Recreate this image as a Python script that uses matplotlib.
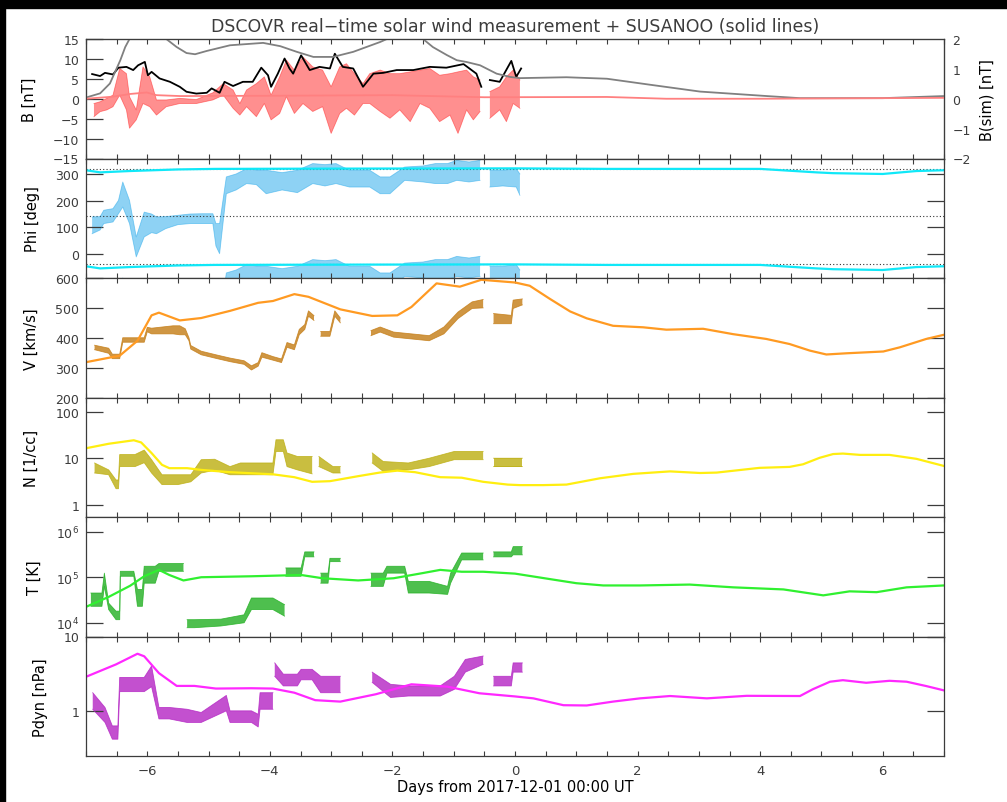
import numpy as np
import matplotlib.pyplot as plt
from matplotlib.patches import Rectangle
from matplotlib.ticker import FixedLocator, MultipleLocator, NullLocator, FixedFormatter

nan = np.nan

# ---- B panel: measured |B| (black) and Bz (red), left axis [nT]
b_t = [-6.90, -6.77, -6.69, -6.56, -6.47, -6.34, -6.23, -6.15, -6.04, -5.99, -5.93, -5.80, -5.63,
       -5.47, -5.36, -5.20, -5.03, -4.95, -4.82, -4.74, -4.60, -4.44, -4.28, -4.14, -4.03, -3.98,
       -3.87, -3.76, -3.68, -3.62, -3.49, -3.35, -3.19, -3.02, -2.94, -2.81, -2.64, -2.48, -2.31,
       -2.15, -1.93, -1.66, -1.39, -1.12, -0.84, -0.63, -0.55, -0.48, -0.41, -0.25, -0.06, 0.02, 0.10]
b_mag = [6.2, 5.7, 6.5, 6.1, 7.8, 8.0, 7.2, 8.4, 9.25, 5.9, 6.75, 5.1, 4.25,
         3.0, 1.75, 1.3, 1.5, 2.6, 1.5, 4.25, 3.2, 4.25, 4.25, 7.8, 5.9, 3.0,
         6.3, 10.1, 7.6, 6.3, 10.9, 7.2, 8.0, 7.6, 11.3, 8.0, 7.6, 3.0, 6.3,
         6.5, 7.2, 7.2, 8.0, 7.8, 8.7, 6.3, 3.0, nan, 4.7, 4.25, 9.5, 5.5, 7.6]

bz_t = [-6.87, -6.77, -6.66, -6.56, -6.45, -6.34, -6.29, -6.18, -6.07, -5.96, -5.85, -5.69, -5.47,
        -5.20, -4.93, -4.76, -4.60, -4.49, -4.38, -4.22, -4.09, -3.98, -3.84, -3.73, -3.60, -3.46,
        -3.30, -3.14, -3.00, -2.86, -2.75, -2.62, -2.48, -2.37, -2.20, -2.04, -1.88, -1.71, -1.55,
        -1.39, -1.23, -1.06, -0.93, -0.79, -0.68, -0.57, -0.49, -0.41, -0.25, -0.14, -0.03, 0.08]
bz_hi = [-1.2, -0.75, 0.1, 0.9, 7.6, 6.3, 0.5, -2.8, 8.0, 5.5, -0.3, -0.3, 0.1,
         -0.2, 1.5, 3.8, 2.2, -1.2, 2.2, 3.8, 5.5, 0.9, 5.5, 9.7, 7.2, 10.5,
         8.0, 7.2, 3.0, 8.0, 8.8, 6.3, 3.8, 6.3, 7.2, 6.3, 6.3, 6.75, 7.2,
         7.6, 5.9, 6.3, 6.75, 7.2, 5.5, 4.7, nan, 1.8, 3.0, 5.5, 7.2, 4.7]
bz_lo = [-4.5, -3.25, -2.8, -2.0, 0.9, -2.8, -7.4, -5.3, -1.2, -2.0, -4.1, -2.0, -1.2,
         -1.2, -0.3, 0.9, -2.4, -4.1, -2.0, -4.5, -1.2, -5.3, -3.7, 0.5, -3.7, -1.2,
         -3.2, -2.0, -8.7, -3.7, -2.4, -4.1, -1.2, -1.2, -3.2, -4.9, -2.8, -5.75, -1.2,
         -2.4, -5.75, -4.1, -8.7, -2.8, -5.3, -3.2, nan, -4.9, -2.8, -5.75, -1.2, -2.4]

# SUSANOO |B| (grey) and Bz (pink), right axis B(sim) [nT]
sim_b_t = [-7.0, -6.77, -6.61, -6.44, -6.36, -6.29, -6.0, -5.69, -5.52, -5.36, -5.22, -5.03, -4.65,
           -4.11, -3.83, -3.56, -3.29, -2.97, -2.64, -2.20, -2.09, -1.8, -1.50, -1.34, -1.11, -0.95,
           -0.79, -0.57, -0.30, -0.08, 0.08, 0.84, 1.5, 2.2, 3.02, 4.11, 4.65, 6.0, 7.0]
sim_bmag = [0.04, 0.18, 0.51, 1.29, 1.73, 2.0, 2.4, 2.0, 1.73, 1.53, 1.49, 1.6, 1.79,
            1.87, 1.76, 1.57, 1.4, 1.4, 1.57, 1.9, 2.0, 2.3, 2.0, 1.73, 1.46, 1.29,
            1.23, 1.12, 0.84, 0.73, 0.69, 0.72, 0.67, 0.47, 0.24, 0.09, 0.02, 0.02, 0.09]
sim_bz_t = [-7.0, -6.56, -6.28, -6.01, -5.85, -5.46, -4.0, -2.0, -0.5, 1.5, 2.47, 4.0, 6.0, 7.0]
sim_bz = [0.0, 0.07, 0.16, 0.21, 0.12, 0.09, 0.10, 0.12, 0.05, 0.06, 0.0, 0.0, 0.02, 0.03]

# ---- Phi [deg]
phi_t = [-6.90, -6.77, -6.71, -6.56, -6.47, -6.40, -6.29, -6.18, -6.05, -5.93, -5.85, -5.70, -5.50,
         -5.30, -5.10, -4.93, -4.88, -4.82, -4.71, -4.55, -4.38, -4.22, -4.06, -3.80, -3.55, -3.30,
         -3.10, -2.92, -2.70, -2.50, -2.37, -2.20, -2.04, -1.80, -1.50, -1.30, -1.10, -0.95, -0.75,
         -0.57, -0.49, -0.41, -0.20, 0.02, 0.08]
phi_hi = [139, 140, 164, 170, 201, 270, 201, 64, 157, 150, 139, 140, 145,
          150, 151, 151, 114, 114, 289, 300, 320, 315, 314, 305, 314, 339,
          335, 339, 314, 314, 314, 289, 289, 326, 330, 339, 339, 351, 345,
          351, nan, 314, 314, 320, 300]
phi_lo = [76, 90, 114, 120, 151, 176, 114, -11, 64, 80, 76, 95, 110,
          114, 114, 114, 30, 1, 226, 240, 264, 260, 226, 240, 230, 264,
          255, 264, 251, 251, 251, 226, 226, 276, 270, 264, 264, 276, 270,
          276, nan, 251, 255, 251, 220]
sim_phi_t = [-7.0, -6.77, -6.29, -5.5, -4.9, -3.0, 0.0, 1.5, 4.0, 4.92, 5.19, 6.0, 6.55, 7.0]
sim_phi = [314, 306, 311, 317, 319, 320, 321, 319, 319, 306, 303, 300, 311, 314]
phi_ref = [320, 142, -38]

# ---- V [km/s]
v_t = [-6.86, -6.63, -6.57, -6.45, -6.40, -6.05, -6.00, -5.93, -5.58, -5.47, -5.38, -5.32, -5.29,
       -5.12, -4.88, -4.65, -4.42, -4.30, -4.19, -4.13, -3.95, -3.81, -3.72, -3.60, -3.52, -3.43,
       -3.37, -3.28, -3.22, -3.17, -3.02, -2.94, -2.85, -2.60, -2.35, -2.20, -1.98, -1.40, -1.16,
       -0.93, -0.70, -0.52, -0.44, -0.35, -0.06, -0.03, 0.12]
v_lo = [360, 348, 330, 330, 385, 385, 420, 413, 413, 410, 410, 390, 362,
        343, 331, 320, 311, 292, 305, 335, 325, 317, 368, 360, 410, 428,
        472, 458, nan, 405, 405, 472, 450, nan, 407, 419, 402, 390, 413,
        464, 498, 500, nan, 447, 447, 498, 510]
v_hi = [375, 365, 345, 345, 400, 400, 435, 432, 440, 440, 430, 400, 374,
        355, 343, 332, 323, 306, 317, 350, 337, 329, 384, 376, 428, 444,
        490, 474, nan, 421, 421, 490, 466, nan, 424, 436, 419, 407, 436,
        486, 520, 528, nan, 481, 475, 526, 530]
sim_v_t = [-6.98, -6.45, -6.16, -5.93, -5.81, -5.47, -5.12, -4.65, -4.19, -3.95, -3.60, -3.37, -2.85,
           -2.33, -1.92, -1.69, -1.28, -0.90, -0.55, 0.0, 0.24, 0.57, 0.90, 1.17, 1.60, 2.09, 2.47,
           3.07, 3.56, 4.10, 4.48, 4.81, 5.08, 5.41, 6.01, 6.28, 6.71, 7.0]
sim_v = [319, 340, 390, 475, 484, 458, 466, 490, 517, 523, 546, 537, 495,
         473, 475, 503, 582, 571, 594, 585, 574, 530, 488, 465, 440, 435, 427,
         430, 412, 396, 379, 357, 344, 348, 354, 368, 396, 410]

# ---- N [1/cc]
n_t = [-6.86, -6.63, -6.51, -6.47, -6.45, -6.20, -6.05, -5.93, -5.76, -5.50, -5.29, -5.12, -4.90,
       -4.65, -4.48, -4.20, -3.95, -3.90, -3.78, -3.72, -3.55, -3.31, -3.25, -3.20, -2.97, -2.85,
       -2.60, -2.33, -2.15, -1.74, -1.40, -0.99, -0.52, -0.44, -0.35, 0.12]
n_lo = [4.8, 4.4, 2.2, 2.2, 6.6, 6.6, 8.0, 4.8, 2.7, 2.7, 3.1, 4.8, 5.5,
        4.4, 4.4, 4.4, 4.4, 14, 14, 6.6, 5.6, 4.6, nan, 6.6, 4.8, 4.8,
        nan, 7.9, 5.2, 5.6, 6.6, 9.3, 9.3, nan, 6.6, 6.6]
n_hi = [7.9, 5.6, 3.4, 3.4, 12, 12, 15, 9.3, 4.4, 4.4, 4.4, 9.3, 9.5,
        6.6, 7.9, 7.9, 7.9, 25, 25, 13, 10.9, 10.9, nan, 10.9, 6.6, 6.6,
        nan, 13, 8.5, 7.9, 10, 14, 14, nan, 10, 10]
sim_n_t = [-6.98, -6.63, -6.22, -6.10, -5.93, -5.76, -5.64, -5.35, -5.12, -4.65, -3.95, -3.60, -3.31,
           -3.02, -2.56, -2.21, -1.92, -1.63, -1.22, -0.87, -0.52, -0.12, 0.08, 0.46, 0.84, 1.39,
           1.93, 2.53, 3.02, 3.29, 3.99, 4.48, 4.70, 4.97, 5.19, 5.35, 5.63, 6.11, 6.55, 7.0]
sim_n = [16.6, 20.5, 24.4, 21.9, 12.9, 7.2, 6.1, 6.1, 5.6, 5.0, 4.5, 3.9, 3.1,
         3.2, 4.1, 4.9, 5.4, 5.0, 3.9, 3.8, 3.1, 2.7, 2.63, 2.63, 2.7, 3.7,
         4.6, 5.2, 4.8, 4.9, 6.2, 6.5, 7.4, 10.2, 12.3, 12.6, 11.8, 11.8, 9.7, 6.8]

# ---- T [K]
t_t = [-6.92, -6.74, -6.70, -6.63, -6.51, -6.45, -6.44, -6.22, -6.16, -6.08, -6.05, -5.87, -5.81,
       -5.41, -5.38, -5.35, -5.23, -4.80, -4.42, -4.30, -3.95, -3.76, -3.75, -3.74, -3.49, -3.43,
       -3.28, -3.22, -3.17, -3.05, -3.02, -2.85, -2.60, -2.35, -2.15, -2.09, -1.80, -1.74, -1.40,
       -1.10, -1.05, -0.87, -0.52, -0.44, -0.35, -0.06, -0.03, 0.12]
temp_lo = [2.3e4, 2.3e4, 6.3e4, 1.95e4, 1.17e4, 1.17e4, 1.05e5, 1.05e5, 2.3e4, 2.3e4, 7.4e4, 7.4e4, 1.35e5,
           1.35e5, nan, 7.8e3, 7.8e3, 8.5e3, 1.0e4, 1.95e4, 1.95e4, 1.4e4, nan, 1.05e5, 1.05e5, 2.8e5,
           2.8e5, nan, 7.4e4, 7.4e4, 2.2e5, 2.2e5, nan, 6.3e4, 6.3e4, 1.23e5, 1.23e5, 4.5e4, 4.5e4,
           4.2e4, 7.4e4, 2.4e5, 2.4e5, nan, 2.8e5, 2.8e5, 3.1e5, 3.1e5]
temp_hi = [4.5e4, 4.5e4, 1.23e5, 2.7e4, 1.8e4, 1.8e4, 1.35e5, 1.35e5, 5.4e4, 5.4e4, 1.74e5, 1.74e5, 2.0e5,
           2.0e5, nan, 1.17e4, 1.17e4, 1.2e4, 1.5e4, 3.5e4, 3.5e4, 2.5e4, nan, 1.6e5, 1.6e5, 3.6e5,
           3.6e5, nan, 1.23e5, 1.23e5, 2.6e5, 2.6e5, nan, 1.23e5, 1.23e5, 1.74e5, 1.74e5, 8.1e4, 8.1e4,
           6.3e4, 1.23e5, 3.4e5, 3.4e5, nan, 3.6e5, 3.6e5, 4.7e5, 4.7e5]
sim_t_t = [-6.98, -6.63, -6.28, -6.05, -5.81, -5.64, -5.41, -5.12, -4.30, -3.49, -3.14, -2.56, -1.98,
           -1.51, -1.22, -0.87, -0.52, 0.0, 0.57, 1.0, 1.44, 2.04, 2.85, 3.56, 4.38, 5.03, 5.46,
           5.90, 6.39, 7.0]
sim_temp = [2.3e4, 3.7e4, 6.5e4, 1.05e5, 1.45e5, 1.12e5, 8.5e4, 1.0e5, 1.05e5, 1.12e5, 9.5e4, 8.5e4, 9.5e4,
            1.23e5, 1.45e5, 1.32e5, 1.32e5, 1.2e5, 9.1e4, 7.4e4, 6.6e4, 6.6e4, 6.9e4, 6.0e4, 5.4e4,
            4.0e4, 4.9e4, 4.7e4, 6.0e4, 6.6e4]

# ---- Pdyn [nPa]
p_t = [-6.89, -6.69, -6.57, -6.48, -6.45, -6.05, -5.93, -5.81, -5.64, -5.35, -5.12, -4.71, -4.65,
       -4.30, -4.19, -4.16, -3.95, -3.93, -3.92, -3.78, -3.55, -3.49, -3.31, -3.17, -2.85, -2.60,
       -2.33, -2.03, -1.74, -1.22, -0.99, -0.81, -0.52, -0.44, -0.35, -0.06, -0.03, 0.12]
p_lo = [1.04, 0.69, 0.41, 0.41, 1.8, 1.8, 2.1, 0.77, 0.77, 0.69, 0.69, 0.99, 0.69,
        0.69, 0.6, 1.04, 1.04, nan, 2.9, 2.15, 2.15, 2.6, 2.6, 1.74, 1.74, nan,
        2.4, 1.5, 1.57, 1.57, 1.93, 3.3, 4.2, nan, 2.15, 2.15, 3.3, 3.3]
p_hi = [1.74, 1.1, 0.62, 0.62, 2.8, 2.8, 4.0, 1.1, 1.1, 1.04, 0.94, 1.6, 0.99,
        0.99, 0.89, 1.74, 1.74, nan, 4.4, 3.1, 3.1, 3.6, 3.6, 2.9, 2.9, nan,
        3.3, 2.26, 2.15, 2.15, 2.9, 4.9, 5.45, nan, 2.9, 2.9, 4.4, 4.4]
sim_p_t = [-6.98, -6.51, -6.16, -6.05, -5.81, -5.52, -5.23, -4.88, -4.30, -3.95, -3.60, -3.26, -2.85,
           -2.27, -1.69, -1.10, -0.58, 0.0, 0.30, 0.79, 1.17, 1.60, 2.04, 2.53, 3.13, 3.78, 4.65,
           4.86, 5.14, 5.35, 5.73, 6.11, 6.39, 6.71, 7.0]
sim_p = [2.9, 4.2, 5.85, 5.4, 3.2, 2.15, 2.15, 1.98, 2.0, 1.98, 1.74, 1.38, 1.32,
         1.66, 2.26, 2.1, 1.71, 1.55, 1.46, 1.18, 1.17, 1.32, 1.46, 1.57, 1.46, 1.58, 1.57,
         1.94, 2.45, 2.57, 2.37, 2.52, 2.45, 2.14, 1.87]

# ---------------------------------------------------------------- figure
W, H = 1007, 803
ink = '#3c3c3c'
plt.rcParams['font.family'] = 'DejaVu Sans'
plt.rcParams['text.color'] = ink
plt.rcParams['axes.edgecolor'] = ink
plt.rcParams['xtick.color'] = ink
plt.rcParams['ytick.color'] = ink

fig = plt.figure(figsize=(W / 100, H / 100), dpi=100)
fig.patches.append(Rectangle((0, 1 - 9 / H), 1, 9 / H, transform=fig.transFigure, color='black', zorder=-1))
fig.patches.append(Rectangle((0, 0), 5 / W, 1, transform=fig.transFigure, color='black', zorder=-1))

panel_h = 119.5
axes = []
for i in range(6):
    top = 40 + i * panel_h
    ax = fig.add_axes([86 / W, 1 - (top + panel_h) / H, 858 / W, panel_h / H])
    ax.set_xlim(-7, 7)
    ax.xaxis.set_major_locator(MultipleLocator(2))
    ax.xaxis.set_minor_locator(MultipleLocator(0.5))
    ax.tick_params(axis='x', which='both', direction='in', top=True, bottom=True, length=3.5, width=0.8)
    ax.tick_params(axis='y', which='major', direction='in', left=True, right=True, length=12.5,
                   width=0.9, labelsize=9, pad=5)
    ax.tick_params(axis='y', which='minor', left=False, right=False)
    for s in ax.spines.values():
        s.set_linewidth(0.9)
    if i < 5:
        ax.tick_params(axis='x', labelbottom=False)
    axes.append(ax)

def band(ax, t, lo, hi, color, alpha=0.8):
    ax.fill_between(t, lo, hi, color=color, lw=0, alpha=alpha)
    ax.plot(t, lo, color=color, lw=0.6, alpha=alpha)
    ax.plot(t, hi, color=color, lw=0.6, alpha=alpha)

def ylab(ax, text, x_px):
    ax.set_ylabel(text, fontsize=10.5)
    ax.yaxis.set_label_coords((x_px - 86) / 858, 0.5)

# B
ax = axes[0]
ax.set_ylim(-15, 15)
ax.yaxis.set_major_locator(FixedLocator([-15, -10, -5, 0, 5, 10, 15]))
band(ax, bz_t, bz_lo, bz_hi, '#ff2020', alpha=0.5)
ax.plot(b_t, b_mag, color='black', lw=1.3)
ylab(ax, 'B [nT]', 37)
axr = ax.twinx()
axr.set_ylim(-2, 2)
axr.yaxis.set_major_locator(FixedLocator([-2, -1, 0, 1, 2]))
axr.tick_params(axis='y', length=0, labelsize=9, pad=6)
axr.plot(sim_b_t, sim_bmag, color='#808080', lw=1.3)
axr.plot(sim_bz_t, sim_bz, color='#ff8080', lw=1.3)
axr.set_ylabel('B(sim) [nT]', fontsize=10.5)
axr.yaxis.set_label_coords((980 - 86) / 858, 0.5)

# Phi
ax = axes[1]
ax.set_ylim(-90, 358)
ax.yaxis.set_major_locator(FixedLocator([0, 100, 200, 300]))
for y in phi_ref:
    ax.axhline(y, color='#333333', lw=0.8, ls=(0, (1, 2)))
for shift in (0, -360):
    band(ax, phi_t, np.array(phi_lo) + shift, np.array(phi_hi) + shift, '#1ea6ea', alpha=0.5)
    ax.plot(sim_phi_t, np.array(sim_phi) + shift, color='#10e8f8', lw=1.6)
ylab(ax, 'Phi [deg]', 40)

# V
ax = axes[2]
ax.set_ylim(200, 600)
ax.yaxis.set_major_locator(FixedLocator([200, 300, 400, 500, 600]))
band(ax, v_t, v_lo, v_hi, '#c47c14')
ax.plot(sim_v_t, sim_v, color='#ff9a22', lw=1.6)
ylab(ax, 'V [km/s]', 39)

# N
ax = axes[3]
ax.set_yscale('log')
ax.set_ylim(0.54, 204)
ax.yaxis.set_major_locator(FixedLocator([1, 10, 100]))
ax.yaxis.set_major_formatter(FixedFormatter(['1', '10', '100']))
ax.yaxis.set_minor_locator(NullLocator())
band(ax, n_t, n_lo, n_hi, '#bcae10')
ax.plot(sim_n_t, sim_n, color='#ffee10', lw=1.6)
ylab(ax, 'N [1/cc]', 39)

# T
ax = axes[4]
ax.set_yscale('log')
ax.set_ylim(5.0e3, 2.1e6)
ax.yaxis.set_major_locator(FixedLocator([1e4, 1e5, 1e6]))
ax.yaxis.set_major_formatter(FixedFormatter([r'$10^{4}$', r'$10^{5}$', r'$10^{6}$']))
ax.yaxis.set_minor_locator(NullLocator())
band(ax, t_t, temp_lo, temp_hi, '#22b022')
ax.plot(sim_t_t, sim_temp, color='#30f030', lw=1.6)
ylab(ax, 'T [K]', 42)

# Pdyn
ax = axes[5]
ax.set_yscale('log')
ax.set_ylim(0.243, 10)
ax.yaxis.set_major_locator(FixedLocator([1, 10]))
ax.yaxis.set_major_formatter(FixedFormatter(['1', '10']))
ax.yaxis.set_minor_locator(NullLocator())
band(ax, p_t, p_lo, p_hi, '#b424c4')
ax.plot(sim_p_t, sim_p, color='#ff28ff', lw=1.6)
ylab(ax, 'Pdyn [nPa]', 48)
ax.tick_params(axis='x', labelsize=9.5, pad=6)
ax.set_xlabel('Days from 2017-12-01 00:00 UT', fontsize=10.5, labelpad=1)

fig.text(515 / W, 1 - 27 / H, 'DSCOVR real\u2212time solar wind measurement + SUSANOO (solid lines)',
         ha='center', va='center', fontsize=12.5)

fig.savefig('out.png', dpi=100)
